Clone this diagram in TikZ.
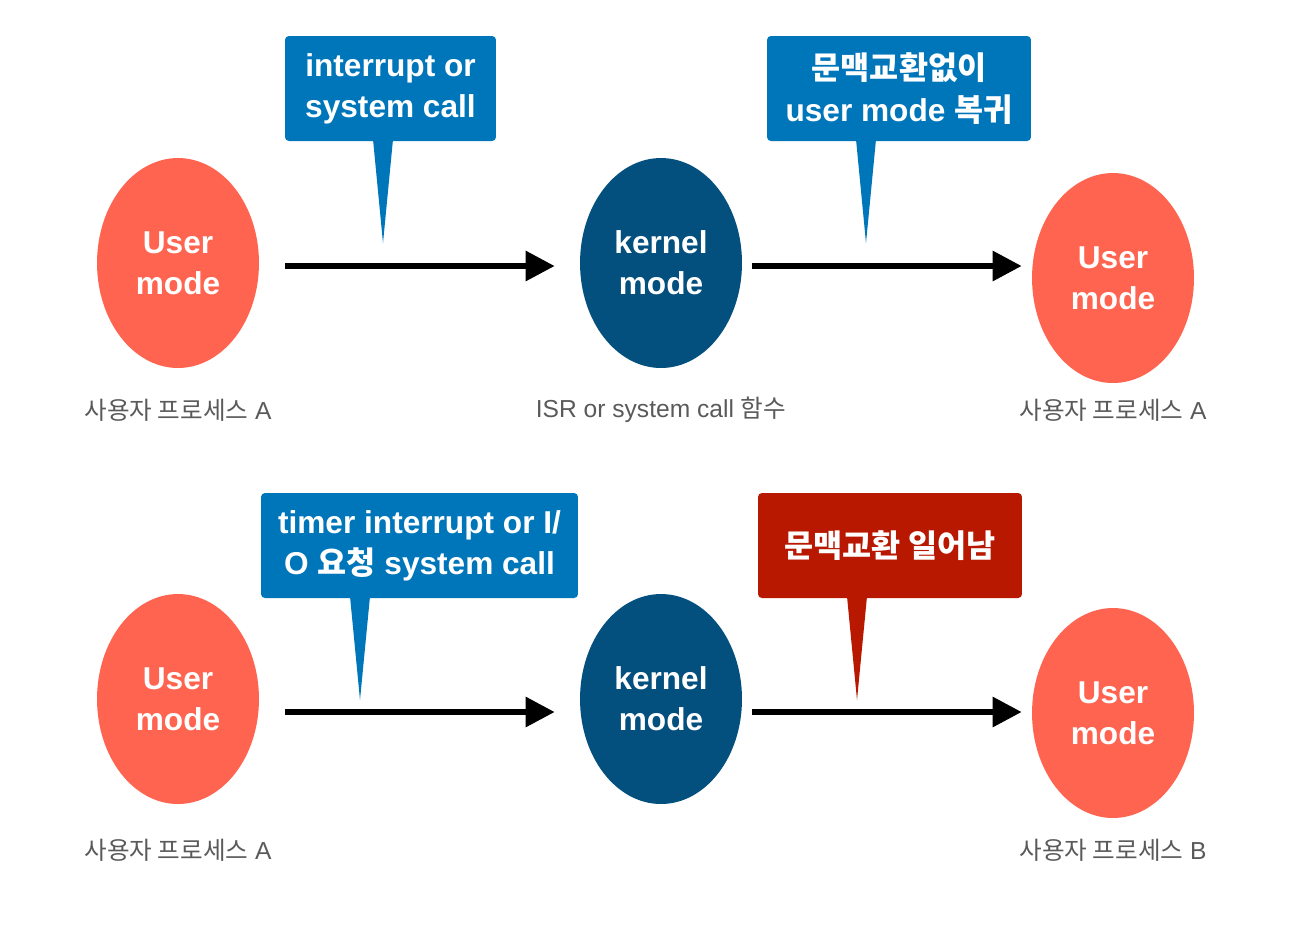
\documentclass[tikz,border=0pt]{standalone}
\usepackage{fontspec}
\setmainfont{Liberation Sans}
\newfontfamily\kr{Noto Sans CJK KR}
\usetikzlibrary{arrows.meta}
\usetikzlibrary{shapes.geometric}
\usetikzlibrary{calc}

\definecolor{usercol}{HTML}{FF6450}
\definecolor{kernelcol}{HTML}{034F7E}
\definecolor{notecol}{HTML}{0076BA}
\definecolor{switchcol}{HTML}{B81800}
\definecolor{labelcol}{HTML}{5A5A5A}

\tikzset{
  modenode/.style={ellipse, minimum width=3.24cm, minimum height=4.2cm, inner sep=0pt,
    text=white, align=center, font=\fontsize{18}{23.5}\selectfont\bfseries},
  usernode/.style={modenode, fill=usercol},
  kernelnode/.style={modenode, fill=kernelcol},
  notenode/.style={rectangle, rounded corners=2.2pt, minimum height=2.1cm, inner sep=0pt,
    text=white, align=center, font=\fontsize{18}{23.5}\selectfont\bfseries},
  caption/.style={text=labelcol, font=\fontsize{14}{16}\selectfont},
  flow/.style={line width=3.4pt, -{Triangle[length=0.58cm,width=0.58cm]}},
}

\begin{document}
\begin{tikzpicture}[x=0.02cm, y=-0.02cm]
\useasboundingbox (0,0) rectangle (1300,938);

% top row: no context switch
\node[usernode]   (u1) at (178,263)  {User\\mode};
\node[kernelnode] (k1) at (661,263)  {kernel\\mode};
\node[usernode]   (u2) at (1113,278) {User\\mode};
\node[caption] (c1) at (178,410)  {{\kr 사용자 프로세스} A};
\node[caption] (c2) at (661,410)  {ISR or system call {\kr 함수}};
\node[caption] (c3) at (1113,410) {{\kr 사용자 프로세스} A};

\draw[flow, shorten <=0.52cm, shorten >=0.5cm]
  ([yshift=-0.06cm]u1.east) -- ([yshift=-0.06cm]k1.west);
\draw[flow, shorten <=0.2cm, shorten >=0.2cm]
  ([yshift=-0.06cm]k1.east) -- ([yshift=-0.06cm]k1.east -| u2.west);

\node[notenode, fill=notecol, minimum width=4.22cm] (n1) at (390.5,88.5)
  {interrupt or\\system call};
\coordinate (t1) at (383,243);
\fill[notecol] ($(t1 |- n1.south)+(-10,-2)$) -- (t1) -- ($(t1 |- n1.south)+(10,-2)$) -- cycle;

\node[notenode, fill=notecol, minimum width=5.28cm] (n2) at (899,88.5)
  {{\kr 문맥교환없이}\\user mode {\kr 복귀}};
\coordinate (t2) at (866,243);
\fill[notecol] ($(t2 |- n2.south)+(-10,-2)$) -- (t2) -- ($(t2 |- n2.south)+(10,-2)$) -- cycle;

% bottom row: context switch
\node[usernode]   (u3) at (178,699)  {User\\mode};
\node[kernelnode] (k2) at (661,699)  {kernel\\mode};
\node[usernode]   (u4) at (1113,713) {User\\mode};
\node[caption] (c4) at (178,850)  {{\kr 사용자 프로세스} A};
\node[caption] (c5) at (1113,850) {{\kr 사용자 프로세스} B};

\draw[flow, shorten <=0.52cm, shorten >=0.5cm]
  ([yshift=-0.26cm]u3.east) -- ([yshift=-0.26cm]k2.west);
\draw[flow, shorten <=0.2cm, shorten >=0.2cm]
  ([yshift=-0.26cm]k2.east) -- ([yshift=-0.26cm]k2.east -| u4.west);

\node[notenode, fill=notecol, minimum width=6.34cm] (n3) at (419.5,545.5)
  {timer interrupt or I/\\O {\kr 요청} system call};
\coordinate (t3) at (360,700);
\fill[notecol] ($(t3 |- n3.south)+(-10,-2)$) -- (t3) -- ($(t3 |- n3.south)+(10,-2)$) -- cycle;

\node[notenode, fill=switchcol, minimum width=5.28cm] (n4) at (890,545.5)
  {\kr 문맥교환 일어남};
\coordinate (t4) at (857,700);
\fill[switchcol] ($(t4 |- n4.south)+(-10,-2)$) -- (t4) -- ($(t4 |- n4.south)+(10,-2)$) -- cycle;
\end{tikzpicture}
\end{document}
